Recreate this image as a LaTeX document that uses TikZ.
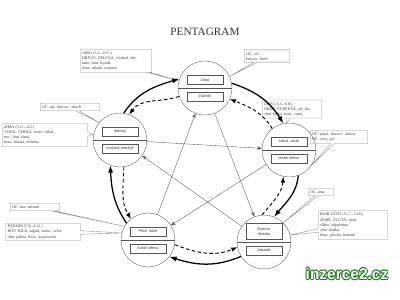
\documentclass[tikz,border=0pt]{standalone}
\usepackage{fontspec}
\setmainfont{Liberation Serif}
\setsansfont{Liberation Sans}
\usetikzlibrary{arrows.meta, positioning, shapes.callouts}
\definecolor{cline}{HTML}{555555}
\definecolor{cgrey}{HTML}{8A8A8A}
\definecolor{ctext}{HTML}{333333}
\definecolor{cgreen}{HTML}{1F7A1F}
\tikzset{
  every picture/.style={x=0.05cm, y=0.05cm},
  element/.style={circle, draw=cline, line width=0.5pt, minimum size=2.7cm, inner sep=0pt},
  organ/.style={draw=cline, line width=0.5pt, minimum width=1.8cm, minimum height=0.45cm, inner sep=1pt, align=center, text=ctext, font=\sffamily\fontsize{5.5}{6.5}\selectfont},
  info/.style={rectangle callout, draw=cgrey, line width=0.5pt, text width=#1, align=left, inner sep=2.5pt, text=ctext, font=\fontsize{5.7}{7.4}\selectfont, callout pointer width=5pt},
  info/.default=2.5cm,
  ringarrow/.style={-{Latex[length=3.6mm, width=2.6mm]}, line width=1.8pt},
  ringback/.style={-{Latex[length=3mm, width=2.3mm]}, line width=1.3pt, dash pattern=on 5pt off 3.5pt},
  starline/.style={-{Stealth[length=2.4mm, width=1.7mm]}, line width=0.5pt, draw=cline},
  title/.style={font=\fontsize{16}{18}\selectfont, text=ctext},
  wmedge/.style={text=cgreen, font=\sffamily\bfseries\fontsize{22}{24}\selectfont},
  wmtext/.style={text=white, font=\sffamily\bfseries\fontsize{22}{24}\selectfont},
}
\begin{document}
\begin{tikzpicture}
  \useasboundingbox (0,0) rectangle (400,300);
  \node[title] (head) at (205,268) {PENTAGRAM};
  % five elements
  \node[element] (T) at (205,212) {};
  \node[element] (L) at (120,160) {};
  \node[element] (R) at (289,150) {};
  \node[element] (S) at (264,58) {};
  \node[element] (P) at (148,60) {};
  \foreach \n in {T,L,R,S,P} \draw[cline, line width=0.5pt] (\n.west) -- (\n.east);
  \node[organ] (Tup) at ([yshift=0.42cm]T.center) {Játra};
  \node[organ] (Tlow) at ([yshift=-0.42cm]T.center) {žlučník};
  \node[organ] (Lup) at ([yshift=0.42cm]L.center) {ledviny};
  \node[organ] (Llow) at ([yshift=-0.42cm]L.center) {močový měchýř};
  \node[organ] (Rup) at ([yshift=0.42cm]R.center) {srdce, osrdí};
  \node[organ] (Rlow) at ([yshift=-0.42cm]R.center) {tenké střevo};
  \node[organ, minimum height=0.8cm] (Sup) at ([yshift=0.52cm]S.center) {Slezina,\\slinivka};
  \node[organ] (Slow) at ([yshift=-0.42cm]S.center) {žaludek};
  \node[organ] (Pup) at ([yshift=0.42cm]P.center) {Plíce, kůže};
  \node[organ] (Plow) at ([yshift=-0.42cm]P.center) {tlusté střevo};
  % notes
  \node[info=3.4cm, callout absolute pointer={(T.165)}] (jaro) at (116,239)
    {JARO (5.2.–19.5.)\\DŘEVO, ZELENÁ, východ, vítr,\\ráno, chuť kyselá,\\hora: mladá, rostoucí};
  \node[info=2.1cm, callout absolute pointer={(T.25)}] (jaroemo) at (267,244)
    {OČ: oči,\\Emoce: hněv};
  \node[info=2.8cm, callout absolute pointer={(L.140)}] (zimaoc) at (70,193)
    {OČ: uši, Emoce: strach};
  \node[info=4.1cm, callout absolute pointer={(L.168)}] (zima) at (45,165)
    {ZIMA (5.11.–4.2.)\\VODA, ČERNÁ, sever, chlad,\\noc, chuť slaná,\\hora: kulatá, zvlněná};
  \node[info=2.8cm, callout absolute pointer={(R.95)}] (leto) at (292,191)
    {LÉTO (5.5.–6.8.)\\OHEŇ, ČERVENÁ, jih, žár,\\chuť hořká, hora: ostrá};
  \node[info=2.7cm, callout absolute pointer={(R.-35)}] (letooc) at (339,163)
    {OČ: jazyk, Emoce: radost,\\OČ: cévy, pot};
  \node[info=3.55cm, callout absolute pointer={(P.165)}] (podzim) at (43,68)
    {PODZIM (7.8.–4.11.)\\KOV, BÍLÁ, západ, sucho, večer,\\chuť pálivá, hora: kopulovitá};
  \node[info=2.3cm, callout absolute pointer={(P.150)}] (podzimoc) at (35,93)
    {OČ: nos, smutek};
  \node[info=1.1cm, callout absolute pointer={(S.45)}] (babioc) at (321,108)
    {OČ: ústa};
  \node[info=3.3cm, callout absolute pointer={(S.15)}] (babi) at (353,75)
    {BABÍ LÉTO (15.7.–14.8.)\\ZEMĚ, ŽLUTÁ, střed,\\vlhko, odpoledne,\\chuť sladká,\\hora: plochá, hranatá};
  % generating cycle
  \draw[ringarrow] (T.10) to[out=-18, in=122] (R.102);
  \draw[ringarrow] (R.-70) to[out=-96, in=51] (S.68);
  \draw[ringarrow] (S.-148) to[out=-157, in=-18] (P.-38);
  \draw[ringarrow] (P.142) to[out=124, in=-87] (L.-111);
  \draw[ringarrow] (L.82) to[out=56, in=-163] (T.160);
  % back cycle
  \draw[ringback] (R.128) to[out=122, in=-22] (T.-24);
  \draw[ringback] (S.94) to[out=51, in=-95] (R.-102);
  \draw[ringback] (P.-10) to[out=-21, in=-157] (S.-169);
  \draw[ringback] (L.-82) to[out=-91, in=121] (P.129);
  \draw[ringback] (T.-162) to[out=199, in=54] (L.70);
  % star
  \draw[starline] (T) -- (S);
  \draw[starline] (S) -- (L);
  \draw[starline] (L) -- (R);
  \draw[starline] (R) -- (P);
  \draw[starline] (P) -- (T);
  % watermark
  \foreach \a in {0,30,...,330}
    \node[wmedge, shift={(\a:1.3pt)}] (wm\a) at (347,26) {inzerce2.cz};
  \node[wmtext] (wm) at (347,26) {inzerce2.cz};
\end{tikzpicture}
\end{document}
